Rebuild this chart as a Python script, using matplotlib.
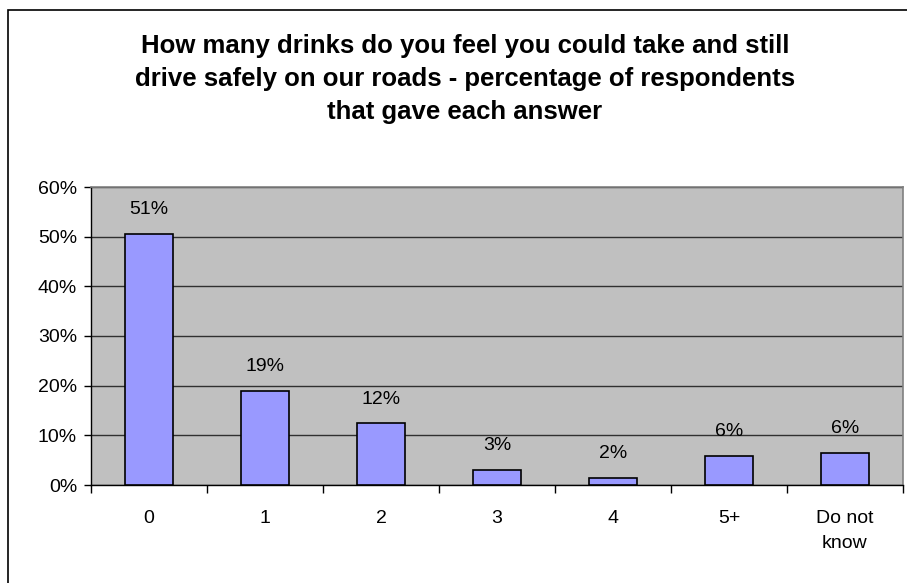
import matplotlib.pyplot as plt
from matplotlib.patches import Rectangle
from matplotlib.ticker import PercentFormatter

# data
categories = ['0', '1', '2', '3', '4', '5+', 'Do not\nknow']
values = [50.5, 18.9, 12.4, 3.1, 1.5, 5.9, 6.4]
labels = ['51%', '19%', '12%', '3%', '2%', '6%', '6%']

plt.rcParams['font.family'] = ['Liberation Sans', 'DejaVu Sans']

fig = plt.figure(figsize=(9.07, 5.83), dpi=100)
fig.patch.set_facecolor('white')

# outer chart border (runs off the right and bottom edges)
fig.patches.append(Rectangle((8 / 907, -0.05), 1.2, 1 - 10 / 583 + 0.05,
                             transform=fig.transFigure, fill=False,
                             edgecolor='black', linewidth=1.2))

ax = fig.add_axes([91 / 907, 1 - 485 / 583, (903 - 91) / 907, (485 - 187) / 583])
ax.set_facecolor('#C0C0C0')

x = range(len(categories))
ax.bar(x, values, width=0.41, color='#9999FF', edgecolor='black', linewidth=1.2, zorder=3)

for xi, v, lab in zip(x, values, labels):
    ax.annotate(lab, (xi, v), xytext=(0, 17.5), textcoords='offset points',
                ha='center', va='center', fontsize=14)

ax.set_xlim(-0.5, len(categories) - 0.5)
ax.set_ylim(0, 60)
ax.set_yticks(range(0, 61, 10))
ax.yaxis.set_major_formatter(PercentFormatter(decimals=0))
ax.grid(axis='y', color='#303030', linewidth=1, zorder=1)
ax.set_axisbelow(True)

# category labels centred, ticks on category boundaries
ax.set_xticks(list(x))
ax.set_xticklabels(categories, fontsize=14, linespacing=1.6, va='top')
ax.tick_params(axis='x', length=0, pad=18)
ax.set_xticks([i + 0.5 for i in range(-1, len(categories))], minor=True)
ax.tick_params(axis='x', which='minor', length=6, width=1, direction='out')
ax.tick_params(axis='y', labelsize=14, length=5, width=1, direction='out', pad=5)

for side in ['top', 'right']:
    ax.spines[side].set_color('#808080')
    ax.spines[side].set_linewidth(1.2)
for side in ['left', 'bottom']:
    ax.spines[side].set_color('black')
    ax.spines[side].set_linewidth(1)

fig.text(465 / 907, 1 - 79 / 583,
         'How many drinks do you feel you could take and still\n'
         'drive safely on our roads - percentage of respondents\n'
         'that gave each answer',
         ha='center', va='center', fontsize=18.5, fontweight='bold', linespacing=1.5)

fig.savefig('out.png', dpi=100)
